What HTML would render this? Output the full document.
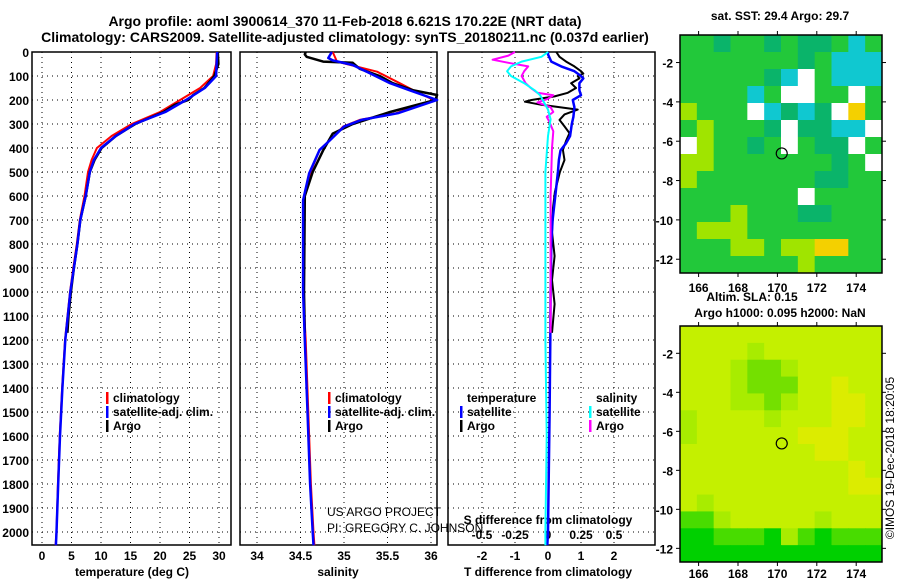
<!DOCTYPE html>
<html><head><meta charset="utf-8">
<style>
html,body{margin:0;padding:0;background:#fff;}
body{width:900px;height:580px;overflow:hidden;font-family:"Liberation Sans",sans-serif;}
svg text{font-family:"Liberation Sans",sans-serif;font-weight:bold;font-size:12px;fill:#000;}
</style></head>
<body>
<svg id="fig" width="900" height="580" viewBox="0 0 900 580" xmlns="http://www.w3.org/2000/svg">
<text x="345" y="26" text-anchor="middle" style="font-size:14px">Argo profile: aoml 3900614_370 11-Feb-2018 6.621S 170.22E (NRT data)</text>
<text x="345" y="42" text-anchor="middle" style="font-size:14px">Climatology: CARS2009. Satellite-adjusted climatology: synTS_20180211.nc (0.037d earlier)</text>
<g id="p1"></g>
<g id="p2"></g>
<g id="p3"></g>
<g id="m1"></g>
<g id="m2"></g>
<text x="0" y="0" transform="translate(894,458) rotate(-90)" text-anchor="middle" style="font-weight:normal;font-size:12px">©IMOS 19-Dec-2018 18:20:05</text>
</svg>
<script>
// ---- data ----
const depthTicks = [0,100,200,300,400,500,600,700,800,900,1000,1100,1200,1300,1400,1500,1600,1700,1800,1900,2000];
const tempTicks = [0,5,10,15,20,25,30];
const salTicks = [34,34.5,35,35.5,36];
const salTickLabels = ["34","34.5","35","35.5","36"];
const tdiffTicks = [-2,-1,0,1,2];
const sdiffTicks = [-0.5,-0.25,0,0.25,0.5];
const sdiffTickLabels = ["-0.5","-0.25","0","0.25","0.5"];

const climDepth = [0,50,100,150,200,250,300,350,400,450,500,600,700,800,900,1000,1200,1400,1600,1800,2000,2055];
const tempClim  = [29.6,29.5,29.0,26.8,23.4,20.0,15.2,11.8,9.3,8.4,7.8,7.2,6.4,5.9,5.3,4.75,3.9,3.4,3.0,2.7,2.45,2.3];
const tempSat   = [29.7,29.6,29.5,27.6,24.4,20.9,15.7,12.5,10.0,8.8,8.1,7.4,6.5,6.0,5.4,4.8,3.95,3.45,3.05,2.75,2.45,2.35];
const argoDepth = [0,50,100,150,180,200,220,250,300,350,400,450,500,600,700,800,900,1000,1100,1170];
const tempArgo  = [29.8,29.9,29.2,27.5,25.6,24.8,22.5,20.6,15.8,12.5,10.1,8.9,8.1,7.4,6.5,6.0,5.4,4.9,4.5,4.3];

const salClimDepth = [0,40,82,130,160,200,255,283,311,367,408,505,617,1000,1200,1500,1800,2000,2055];
const salClim = [34.87,34.92,35.38,35.64,35.8,36.03,35.6,35.18,34.99,34.84,34.72,34.61,34.54,34.53,34.56,34.59,34.62,34.65,34.66];
const salSatDepth = [0,25,35,54,89,130,160,200,255,283,311,367,408,505,617,1000,1200,1500,1800,2000,2055];
const salSat  = [34.86,34.82,34.87,35.1,35.3,35.53,35.76,36.07,35.62,35.2,35.0,34.84,34.72,34.6,34.53,34.53,34.55,34.58,34.61,34.64,34.65];
const salArgoDepth = [0,10,20,40,45,70,100,130,160,179,200,250,300,340,410,500,600,1000,1170];
const salArgo = [34.56,34.55,34.57,34.76,35.1,35.18,35.41,35.56,35.8,36.07,36.05,35.53,35.1,34.87,34.76,34.64,34.55,34.54,34.55];

const tSatDepth = [0,10,40,60,80,100,110,130,160,180,200,230,270,300,350,380,410,450,500,600,700,800,1000,1200,1500,2000,2055];
const tSatDiff  = [0,0,0.1,0.4,0.8,1.0,1.07,0.95,0.95,1.0,0.75,0.8,0.77,0.72,0.67,0.55,0.38,0.33,0.3,0.22,0.14,0.1,0.08,0.07,0.05,0.0,-0.02];
const tArgoDepth = [0,20,40,60,80,90,100,110,130,150,170,185,200,207,220,240,260,283,310,338,370,408,450,500,583,650,750,850,950,1050,1170];
const tArgoDiff  = [0.25,0.35,0.55,0.8,1.0,1.07,0.9,0.95,0.7,0.85,0.6,0.2,-0.5,-0.7,-0.2,0.9,0.5,0.35,0.5,0.65,0.55,0.45,0.5,0.36,0.21,0.15,0.12,0.2,0.12,0.2,0.12];
const sSatDepth = [0,20,40,60,80,100,130,160,180,210,240,280,350,500,800,1200,1600,2000,2055];
const sSatDiff  = [0,-0.05,-0.2,-0.28,-0.31,-0.28,-0.18,-0.1,-0.06,-0.03,0.0,0.02,0.0,-0.02,-0.02,-0.02,-0.01,-0.02,-0.02];
const sArgoDepth = [0,15,32,45,60,80,100,130,150,170,180,195,210,230,250,270,290,330,400,600,900,1170];
const sArgoDiff  = [-0.25,-0.3,-0.42,-0.3,-0.15,-0.18,-0.2,-0.17,-0.13,-0.08,0.04,0.0,-0.08,0.02,0.04,-0.01,0.01,0.04,0.03,0.02,0.02,0.02];

const lonTicks = [166,168,170,172,174];
const latTicks = [-2,-4,-6,-8,-10,-12];
const argoLon = 170.22;
const argoLat = -6.621;
const sstGrid = [
"ggtggtgttgcg","gggggggtgccc","gggggtcwgccc","ggggcgwwggwg",
"ygggwctctwog","gygggtwttccw","wyggtgwgttwg","yygggggggtgw",
"ygggggggttgg","gggggggwgggg","gggygggttggg","gyyygggggggg",
"gggyygyyoogg","gggggggygggg"];
const slaGrid = [
"llllllllllll","llllmlllllll","lllmnnmlllll","lllmnnnllyll",
"lllmmnmllyyl","mllllmlllyyl","mllllllyyyll","llllllllyyll",
"llllllllllyl","llllllllllyy","lmllllllllll","ddmlllllmlll",
"ssdddsmdsddd","ssssssssssss"];
const sstColors = {g:"#22c83a",t:"#0ab46a",c:"#10c8d0",w:"#ffffff",y:"#a0e400",o:"#f4d000"};
const slaColors = {l:"#c4f000",m:"#a8ec00",n:"#74e000",y:"#dcec00",s:"#00d000",d:"#48dc00"};

// ---- helpers ----
const NS="http://www.w3.org/2000/svg";
function mk(parent,tag,attrs){const e=document.createElementNS(NS,tag);for(const k in attrs)e.setAttribute(k,attrs[k]);parent.appendChild(e);return e;}
const TOP=52, BOT=545;
const yD = d => TOP + 0.24*d;
function panel(g,x0,x1){
  const r=mk(g,'rect',{x:x0,y:TOP,width:x1-x0,height:BOT-TOP,fill:'none',stroke:'#000','stroke-width':1.5});
  
  
  depthTicks.forEach(d=>{
    const l=mk(g,'line',{x1:x0,x2:x1,y1:yD(d),y2:yD(d),stroke:'#000','stroke-dasharray':'1,4','stroke-width':1});
    
    
  });
}
function vgrid(g,xs,sc){
  xs.forEach(v=>{
    const l=mk(g,'line',{x1:sc(v),x2:sc(v),y1:TOP,y2:BOT,stroke:'#000','stroke-dasharray':'1,4','stroke-width':1});
    
    
  });
}
function line(g,ds,vs,sc,col,w,name){
  const pts=ds.map((d,i)=>sc(vs[i]).toFixed(1)+','+yD(d).toFixed(1)).join(' ');
  const p=mk(g,'polyline',{points:pts,fill:'none',stroke:col,'stroke-width':w,'stroke-linejoin':'round'});
  
  
}
function txt(g,x,y,s,anchor,name,extra){
  const t=mk(g,'text',Object.assign({x:x,y:y,'text-anchor':anchor||'start'},extra||{}));
  t.textContent=s;
  
  
  return t;
}
function legend(g,x,y,col,label){
  const b=mk(g,'rect',{x:x,y:y-10,width:2.5,height:12,fill:col});
  
  
  txt(g,x+7,y,label,'start','legend-entry');
}

// ---- panel 1: temperature ----
const p1=document.getElementById('p1');
const xT = t => 42 + 5.9*t;
panel(p1,32,231); vgrid(p1,tempTicks,xT);
depthTicks.forEach(d=>txt(p1,29,yD(d)+5,String(d),'end','depth-tick-label'));
tempTicks.forEach(t=>txt(p1,xT(t),560,String(t),'middle','temperature-tick-label'));
txt(p1,132,576,'temperature (deg C)','middle','x-axis-title');
line(p1,climDepth,tempClim,xT,'#ff0000',2,'temperature-climatology-line');
line(p1,argoDepth,tempArgo,xT,'#000',2.5,'temperature-argo-line');
line(p1,climDepth,tempSat,xT,'#0000ff',2.5,'temperature-satellite-line');
legend(p1,106,402,'#ff0000','climatology');
legend(p1,106,416,'#0000ff','satellite-adj. clim.');
legend(p1,106,430,'#000','Argo');

// ---- panel 2: salinity ----
const p2=document.getElementById('p2');
const xS = s => 257 + 87*(s-34);
panel(p2,240,437); vgrid(p2,salTicks,xS);
salTicks.forEach((s,i)=>txt(p2,xS(s),560,salTickLabels[i],'middle','salinity-tick-label'));
txt(p2,338,576,'salinity','middle','x-axis-title');
line(p2,salClimDepth,salClim,xS,'#ff0000',2,'salinity-climatology-line');
line(p2,salArgoDepth,salArgo,xS,'#000',2.5,'salinity-argo-line');
line(p2,salSatDepth,salSat,xS,'#0000ff',2.5,'salinity-satellite-line');
legend(p2,328,402,'#ff0000','climatology');
legend(p2,328,416,'#0000ff','satellite-adj. clim.');
legend(p2,328,430,'#000','Argo');
txt(p2,327,516,'US ARGO PROJECT','start','credit-line-1',{style:'font-weight:normal'});
txt(p2,327,532,'PI: GREGORY C. JOHNSON','start','credit-line-2',{style:'font-weight:normal'});

// ---- panel 3: differences ----
const p3=document.getElementById('p3');
const xdT = v => 548 + 33*v;
const xdS = v => 548 + 132*v;
panel(p3,448,655); vgrid(p3,tdiffTicks,xdT);
tdiffTicks.forEach(v=>txt(p3,xdT(v),560,String(v),'middle','t-diff-tick-label'));
sdiffTicks.forEach((v,i)=>txt(p3,xdS(v),539,sdiffTickLabels[i],'middle','s-diff-tick-label'));
txt(p3,548,524,'S difference from climatology','middle','s-diff-axis-title');
txt(p3,548,576,'T difference from climatology','middle','x-axis-title');
line(p3,tArgoDepth,tArgoDiff,xdT,'#000',2,'t-diff-argo-line');
line(p3,tSatDepth,tSatDiff,xdT,'#0000ff',2.5,'t-diff-satellite-line');
line(p3,sArgoDepth,sArgoDiff,xdS,'#ff00ff',2,'s-diff-argo-line');
line(p3,sSatDepth,sSatDiff,xdS,'#00ffff',2,'s-diff-satellite-line');
txt(p3,467,402,'temperature','start','legend-title');
txt(p3,596,402,'salinity','start','legend-title');
legend(p3,460,416,'#0000ff','satellite');
legend(p3,460,430,'#000','Argo');
legend(p3,589,416,'#00ffff','satellite');
legend(p3,589,430,'#ff00ff','Argo');

// ---- maps ----
function map(g,top,bot,grid,colors,tickY){
  const L=680,R=882;
  const xL = lon => 698.6 + 19.7*(lon-166);
  const latTop=-0.6, latBot=-12.7;
  const yL = lat => top + (latTop-lat)*(bot-top)/(latTop-latBot);
  const nr=grid.length, nc=grid[0].length, cw=(R-L)/nc, ch=(bot-top)/nr;
  grid.forEach((row,r)=>{for(let c=0;c<nc;c++){
    const cell=mk(g,'rect',{x:L+c*cw,y:top+r*ch,width:cw+0.5,height:ch+0.5,fill:colors[row[c]]||colors[Object.keys(colors)[0]]});
    
    
  }});
  const fr=mk(g,'rect',{x:L,y:top,width:R-L,height:bot-top,fill:'none',stroke:'#000','stroke-width':1.5});
  
  
  lonTicks.forEach(lo=>{
    const a=mk(g,'line',{x1:xL(lo),x2:xL(lo),y1:top,y2:top-4,stroke:'#000'});
    
    
    const b=mk(g,'line',{x1:xL(lo),x2:xL(lo),y1:bot,y2:bot+4,stroke:'#000'});
    
    
    txt(g,xL(lo),tickY,String(lo),'middle','lon-tick-label');
  });
  latTicks.forEach(la=>{
    const a=mk(g,'line',{x1:L-4,x2:L,y1:yL(la),y2:yL(la),stroke:'#000'});
    
    
    const b=mk(g,'line',{x1:R,x2:R+4,y1:yL(la),y2:yL(la),stroke:'#000'});
    
    
    txt(g,673,yL(la)+5,String(la),'end','lat-tick-label');
  });
  const c=mk(g,'circle',{cx:xL(argoLon),cy:yL(argoLat),r:5.5,fill:'none',stroke:'#000','stroke-width':1.2});
  
  
}
const m1=document.getElementById('m1');
map(m1,35,273,sstGrid,sstColors,292);
txt(m1,780,20,'sat. SST: 29.4 Argo: 29.7','middle','sst-map-title');
const m2=document.getElementById('m2');
map(m2,326,562,slaGrid,slaColors,578);
txt(m2,752,301,'Altim. SLA: 0.15','middle','sla-map-title');
txt(m2,780,317,'Argo h1000: 0.095 h2000: NaN','middle','sla-map-subtitle');
</script>
</body></html>
